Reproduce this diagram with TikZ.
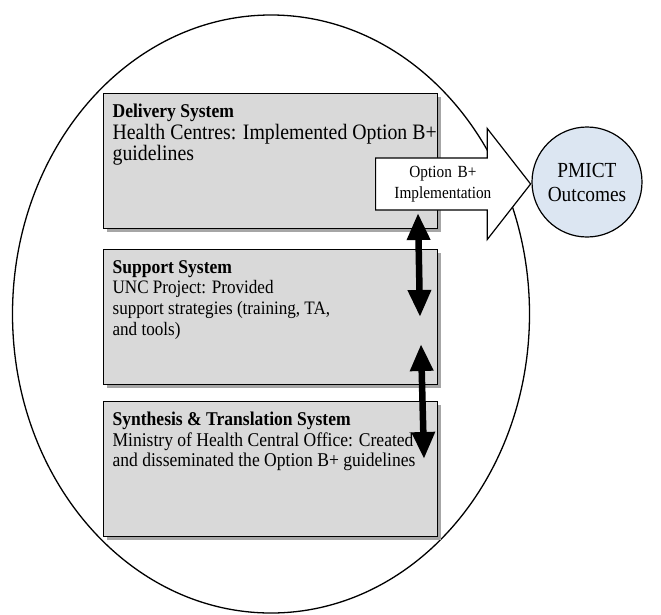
\documentclass[tikz,border=0pt]{standalone}
\usepackage{fontspec}
\setmainfont{Liberation Serif}[FakeStretch=0.9]
\usetikzlibrary{shapes.geometric,shapes.arrows,shadows,arrows.meta}
\definecolor{boxgray}{HTML}{D9D9D9}
\definecolor{outblue}{HTML}{DCE6F2}
\newcommand{\systext}[2]{\parbox[t][114pt][t]{334pt}{\raggedright\leftskip=9pt\rightskip=-60pt plus 1fil{\fontsize{19.5}{21}\selectfont\textbf{#1}}\\#2}}
\tikzset{
  sysbox/.style={draw, line width=1.2pt, fill=boxgray, anchor=north west, inner xsep=0pt, inner ysep=10.5pt,
    font=\fontsize{19.5}{20.5}\selectfont,
    drop shadow={shadow xshift=3.5pt, shadow yshift=-3.5pt, fill=black!35, opacity=1}},
  blockarrow/.style={single arrow, draw, line width=1.2pt, fill=white, align=center, text width=98pt,
    inner xsep=7pt, inner ysep=7.5pt, minimum height=155pt, single arrow head extend=29.5pt,
    single arrow tip angle=104, font=\fontsize{17}{21}\selectfont},
  outcome/.style={circle, draw, line width=1.2pt, fill=outblue, minimum size=110pt, inner sep=0pt,
    align=center, font=\fontsize{21.5}{24}\selectfont},
  linkarrow/.style={{Triangle[width=22pt,length=27pt]}-{Triangle[width=22pt,length=27pt]}, line width=6.5pt}
}
\begin{document}
\begin{tikzpicture}[x=1pt,y=-1pt]
    \useasboundingbox (0,0) rectangle (661,614);
    \node[draw, ellipse, line width=1.3pt, minimum width=517pt, minimum height=598pt] (system) at (271,314) {};
    \node[sysbox, font=\fontsize{22}{21.5}\selectfont] (delivery) at (103,93) {\systext{Delivery System}{Health Centres: Implemented Option B+\\guidelines}};
    \node[sysbox, font=\fontsize{19}{20.7}\selectfont] (support) at (103,249) {\systext{Support System}{UNC Project: Provided\\support strategies (training, TA,\\and tools)}};
    \node[sysbox] (synthesis) at (103,401) {\systext{Synthesis \& Translation System}{Ministry of Health Central Office: Created\\and disseminated the Option B+ guidelines}};
    \node[blockarrow, anchor=tail] (impl) at (375,184) {Option B+\\Implementation};
    \node[outcome] (pmict) at (587,182) {PMICT\\Outcomes};
    \coordinate (a1) at (418,213);
    \coordinate (b1) at (420,317);
    \coordinate (a2) at (421,344);
    \coordinate (b2) at (424,459);
    \draw[linkarrow] (a1) -- (b1);
    \draw[linkarrow] (a2) -- (b2);
\end{tikzpicture}
\end{document}
